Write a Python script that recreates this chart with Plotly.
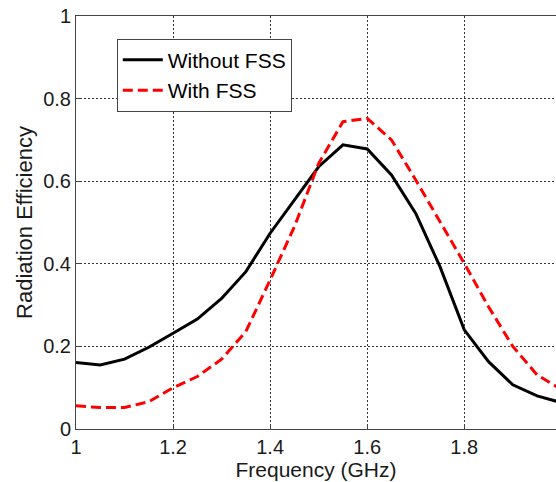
import plotly.graph_objects as go

freq = [1.0, 1.05, 1.1, 1.15, 1.2, 1.25, 1.3, 1.35, 1.4, 1.45, 1.5,
        1.55, 1.6, 1.65, 1.7, 1.75, 1.8, 1.85, 1.9, 1.95, 2.0]
without_fss = [0.161, 0.155, 0.169, 0.198, 0.232, 0.266, 0.316, 0.381, 0.474, 0.556, 0.635,
               0.688, 0.678, 0.615, 0.522, 0.393, 0.240, 0.163, 0.107, 0.080, 0.064]
with_fss = [0.056, 0.052, 0.052, 0.066, 0.100, 0.127, 0.169, 0.236, 0.361, 0.490, 0.643,
            0.744, 0.752, 0.700, 0.603, 0.502, 0.401, 0.296, 0.200, 0.131, 0.096]
x_ticks = [1, 1.2, 1.4, 1.6, 1.8, 2]
y_ticks = [0, 0.2, 0.4, 0.6, 0.8, 1]

FONT = "Arial, Liberation Sans, sans-serif"

fig = go.Figure()
fig.add_trace(go.Scatter(x=freq, y=without_fss, mode="lines", name="Without FSS",
                         line=dict(color="black", width=3)))
fig.add_trace(go.Scatter(x=freq, y=with_fss, mode="lines", name="With FSS",
                         line=dict(color="#ff0000", width=3, dash="10px,5px")))

fig.update_layout(
    width=556, height=482,
    margin=dict(l=76, r=0, t=16, b=53),
    paper_bgcolor="white", plot_bgcolor="white",
    font=dict(family=FONT, color="#1a1a1a", size=20),
    showlegend=True,
    legend=dict(x=0.085, y=0.945, xanchor="left", yanchor="top",
                bgcolor="white", bordercolor="#444", borderwidth=1,
                font=dict(family=FONT, size=21, color="black"),
                itemwidth=40, tracegroupgap=0),
    xaxis=dict(range=[1, 1.989], tickvals=x_ticks, ticktext=[str(v) for v in x_ticks],
               showline=True, linecolor="#444", linewidth=1, mirror=True,
               showgrid=True, gridcolor="#333", gridwidth=1, griddash="2px,2px",
               zeroline=False, ticks="inside", ticklen=5, tickcolor="#444",
               tickfont=dict(size=20),
               title=dict(text="Frequency (GHz)", font=dict(size=21), standoff=2)),
    yaxis=dict(range=[0, 1], tickvals=y_ticks, ticktext=["0", "0.2", "0.4", "0.6", "0.8", "1"],
               showline=True, linecolor="#444", linewidth=1, mirror=False,
               showgrid=True, gridcolor="#333", gridwidth=1, griddash="2px,2px",
               zeroline=False, ticks="inside", ticklen=5, tickcolor="#444",
               tickfont=dict(size=20),
               title=dict(text="Radiation Efficiency", font=dict(size=22), standoff=4)),
)

fig.write_html("out.html")
